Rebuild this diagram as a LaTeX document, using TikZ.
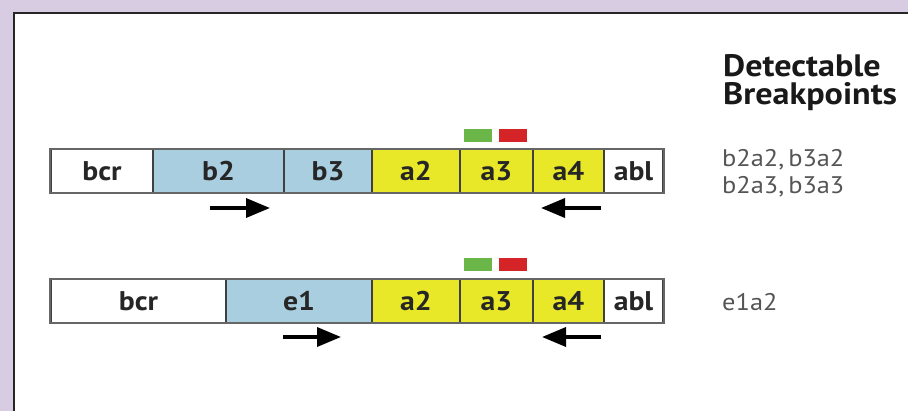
\documentclass[tikz,border=0pt]{standalone}
\usepackage{fontspec}
\setmainfont[FakeStretch=1.1]{PT Sans}
\usetikzlibrary{arrows.meta}
\definecolor{lav}{RGB}{216,204,226}
\definecolor{cblue}{RGB}{168,206,224}
\definecolor{cyel}{RGB}{232,232,40}
\definecolor{cgreen}{RGB}{106,182,72}
\definecolor{cred}{RGB}{212,36,40}
\definecolor{gtext}{RGB}{85,85,85}
\tikzset{
  cell/.style={draw=black!75, line width=1.3pt, inner sep=0pt, minimum height=43pt,
    font=\fontsize{27}{27}\selectfont\bfseries, text=black!85},
  whitecell/.style={cell, fill=white},
  bluecell/.style={cell, fill=cblue},
  yelcell/.style={cell, fill=cyel},
  probe/.style={inner sep=0pt, minimum width=28pt, minimum height=13pt},
  primer/.style={line width=3.5pt, -{Triangle[length=24pt,width=19pt]}},
  gray/.style={font=\fontsize{24}{24}\selectfont, text=gtext, anchor=base west, inner sep=0pt},
  head/.style={anchor=base west, inner sep=0pt, font=\fontsize{31}{31}\selectfont\bfseries, text=black!90},
}
\begin{document}
\begin{tikzpicture}[x=1pt,y=-1pt]
\useasboundingbox (0,0) rectangle (908,411);
\fill[lav] (0,0) rectangle (908,411);
\fill[white] (14,13) rectangle (908,411);
\draw[black!85, line width=2.5pt] (14,411) -- (14,13) -- (908,13);
% row 1
\node[whitecell, minimum width=102pt] (r1bcr) at (102,171) {bcr};
\node[bluecell, minimum width=131pt] (r1b2) at (218.5,171) {b2};
\node[bluecell, minimum width=88pt] (r1b3) at (328,171) {b3};
\node[yelcell, minimum width=88pt] (r1a2) at (416,171) {a2};
\node[yelcell, minimum width=73pt] (r1a3) at (496.5,171) {a3};
\node[yelcell, minimum width=71pt] (r1a4) at (568.5,171) {a4};
\node[whitecell, minimum width=59pt] (r1abl) at (633.5,171) {abl};
\node[probe, fill=cgreen] (r1g) at (478,135.5) {};
\node[probe, fill=cred] (r1r) at (512.5,135.5) {};
\coordinate (r1f1) at (210,208);
\coordinate (r1f2) at (270,208);
\coordinate (r1b1) at (601,208);
\coordinate (r1b2e) at (541,208);
\draw[primer] (r1f1) -- (r1f2);
\draw[primer] (r1b1) -- (r1b2e);
% row 2
\node[whitecell, minimum width=175pt] (r2bcr) at (138.5,301) {bcr};
\node[bluecell, minimum width=146pt] (r2e1) at (299,301) {e1};
\node[yelcell, minimum width=88pt] (r2a2) at (416,301) {a2};
\node[yelcell, minimum width=73pt] (r2a3) at (496.5,301) {a3};
\node[yelcell, minimum width=71pt] (r2a4) at (568.5,301) {a4};
\node[whitecell, minimum width=59pt] (r2abl) at (633.5,301) {abl};
\node[probe, fill=cgreen] (r2g) at (478,265) {};
\node[probe, fill=cred] (r2r) at (512.5,265) {};
\coordinate (r2f1) at (283,337);
\coordinate (r2f2) at (341,337);
\coordinate (r2b1) at (601,337);
\coordinate (r2b2e) at (542,337);
\draw[primer] (r2f1) -- (r2f2);
\draw[primer] (r2b1) -- (r2b2e);
% outer borders
\draw[black!60, line width=1.8pt] (r1bcr.north west) rectangle (r1abl.south east);
\draw[black!60, line width=1.8pt] (r2bcr.north west) rectangle (r2abl.south east);
% right column
\node[head] (h1) at (723,77) {Detectable};
\node[head] (h2) at (723,105) {Breakpoints};
\node[gray] (t1) at (722,167) {b2a2,\hspace{4pt}b3a2};
\node[gray] (t2) at (722,194) {b2a3,\hspace{4pt}b3a3};
\node[gray] (t3) at (722,311) {e1a2};
\end{tikzpicture}
\end{document}
